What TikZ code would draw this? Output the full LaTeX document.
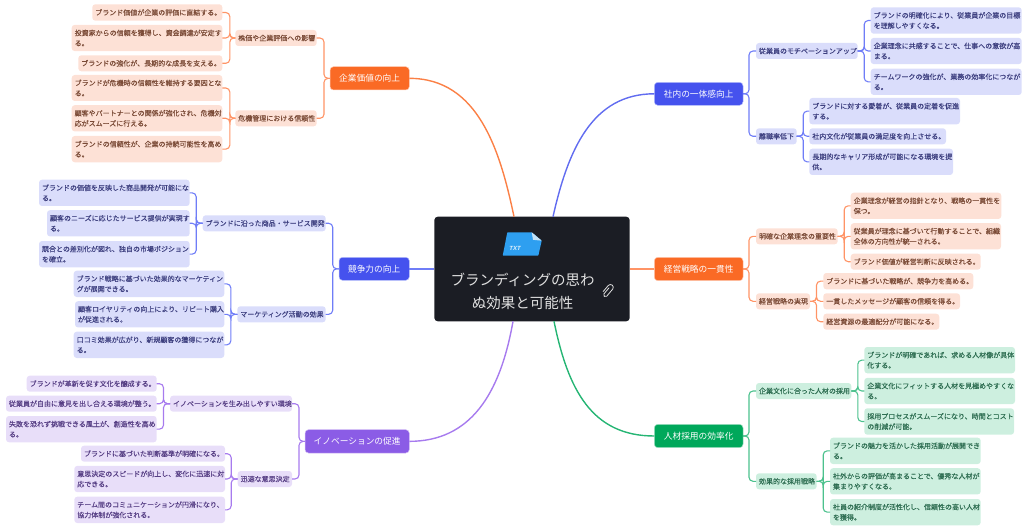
\documentclass[tikz,border=0pt]{standalone}
\usepackage{fontspec}
\setmainfont{Noto Sans CJK JP}
\newfontfamily\subfont{Noto Sans CJK JP}[FakeBold=0.07]
\newfontfamily\txtfont{Liberation Sans}
\definecolor{oLine}{HTML}{FF9466}\definecolor{oFill}{HTML}{FDE1D6}\definecolor{oText}{HTML}{7A4A36}\definecolor{oMain}{HTML}{FA6A25}
\definecolor{bLine}{HTML}{6F7DF7}\definecolor{bFill}{HTML}{DADDFB}\definecolor{bText}{HTML}{3E4080}\definecolor{bMain}{HTML}{4552EE}
\definecolor{pLine}{HTML}{A77BEE}\definecolor{pFill}{HTML}{E8DEF9}\definecolor{pText}{HTML}{573F85}\definecolor{pMain}{HTML}{8B5CE6}
\definecolor{gLine}{HTML}{4CC18D}\definecolor{gFill}{HTML}{CDEFDF}\definecolor{gText}{HTML}{2E6E52}\definecolor{gMain}{HTML}{00A85B}
\definecolor{coreFill}{HTML}{1B1D24}
\definecolor{iconBlue}{HTML}{2E9FF0}\definecolor{iconFold}{HTML}{C4E2F6}
\tikzset{
 base/.style={rectangle,rounded corners=3pt,inner sep=0pt,outer sep=0pt},
 sub/.style={base,font=\fontsize{7}{10.3}\subfont,align=left},
 topic/.style={base,rounded corners=3.5pt,font=\fontsize{8.7}{11}\selectfont,align=center,text=white},
 oS/.style={sub,fill=oFill,text=oText},bS/.style={sub,fill=bFill,text=bText},
 pS/.style={sub,fill=pFill,text=pText},gS/.style={sub,fill=gFill,text=gText},
 oT/.style={topic,fill=oMain,draw=oLine!50,line width=.5pt},bT/.style={topic,fill=bMain,draw=bLine!50,line width=.5pt},
 pT/.style={topic,fill=pMain,draw=pLine!50,line width=.5pt},gT/.style={topic,fill=gMain,draw=gLine!50,line width=.5pt},
 link/.style={line width=1.1pt,rounded corners=4pt},
 trunk/.style={line width=1.4pt},
}
\newcommand\bx[7][]{%
 \pgfmathsetmacro\bxw{#5-#3}\pgfmathsetmacro\bxt{#5-#3-6}\pgfmathsetmacro\bxh{#6-#4}%
 \node[#1,minimum width=\bxw pt,minimum height=\bxh pt,text width=\bxt pt] (#2) at ({(#3+#5)/2},{(#4+#6)/2}) {#7};}
% left-going and right-going brackets
\newcommand\lk[4]{\foreach \t in {#4}{\draw[link,#1] (#2.west) -- ([xshift=-#3pt]#2.west) |- (\t.east);}}
\newcommand\rk[4]{\foreach \t in {#4}{\draw[link,#1] (#2.east) -- ([xshift=#3pt]#2.east) |- (\t.west);}}
\begin{document}
\begin{tikzpicture}[x=1pt,y=-1pt]
\useasboundingbox (0,0) rectangle (1024,529);
% centre
\node[base,rounded corners=3.5pt,fill=coreFill,minimum width=195.4pt,minimum height=104.6pt] (core) at (532,269) {};
\node[font=\fontsize{14.5}{22.7}\selectfont,text=white!88!black,align=center,inner sep=0pt] (coretext) at (522.5,291.5) {ブランディングの思わ\\ぬ効果と可能性};
\fill[iconBlue,rounded corners=.6pt] (507.3,232.3) -- (531.7,232.3) -- (541.7,240.7) -- (538.3,255.7) -- (502.7,255.7) -- cycle;
\fill[iconFold] (531.7,232.3) -- (541.7,240.7) -- (533,239.8) -- cycle;
\node[font=\fontsize{6}{7}\txtfont\bfseries\itshape,text=white!85!iconBlue,inner sep=0pt] (txt) at (515,248.6) {TXT};
\begin{scope}[shift={(607.7,291)},x=1.3pt,y=1.3pt,rotate=-40]
\draw[white!88!black,line width=.8pt,line cap=round] (-.8,2.5) -- (-.8,-3.5) arc[start angle=180,end angle=360,radius=1.82pt] -- (2,3.5) arc[start angle=0,end angle=180,radius=2.86pt] -- (-2.4,-2.5);
\end{scope}
% topics
\bx[oT]{t1}{330}{66.7}{409.3}{90}{企業価値の向上}
\bx[bT]{t2}{339}{257.3}{409.3}{280.3}{競争力の向上}
\bx[pT]{t3}{305}{429.7}{409.3}{453}{イノベーションの促進}
\bx[bT]{t4}{654.3}{82.3}{743}{105.3}{社内の一体感向上}
\bx[oT]{t5}{654.3}{257.3}{743}{280.7}{経営戦略の一貫性}
\bx[gT]{t6}{654.3}{424.3}{743}{447.7}{人材採用の効率化}
% top left
\bx[oS]{a1}{235.3}{30}{316.7}{46}{株価や企業評価への影響}
\bx[oS]{a2}{235.3}{110.3}{316.7}{126.3}{危機管理における信頼性}
\bx[oS]{a11}{92.3}{4.3}{222.3}{20.7}{ブランド価値が企業の評価に直結する。}
\bx[oS]{a12}{71.7}{24.9}{222.3}{51.1}{投資家からの信頼を獲得し、資金調達が安定す\\る。}
\bx[oS]{a13}{78.3}{55.3}{222.3}{71.3}{ブランドの強化が、長期的な成長を支える。}
\bx[oS]{a21}{71.7}{75}{222.3}{101}{ブランドが危機時の信頼性を維持する要因とな\\る。}
\bx[oS]{a22}{71.7}{105.2}{222.3}{131.4}{顧客やパートナーとの関係が強化され、危機対\\応がスムーズに行える。}
\bx[oS]{a23}{71.7}{136}{222.3}{162.3}{ブランドの信頼性が、企業の持続可能性を高め\\る。}
% mid left
\bx[bS]{b1}{202.7}{215.3}{325.7}{231.3}{ブランドに沿った商品・サービス開発}
\bx[bS]{b2}{237.3}{306.3}{325.7}{322.3}{マーケティング活動の効果}
\bx[bS]{b11}{39}{179.7}{189.7}{206}{ブランドの価値を反映した商品開発が可能にな\\る。}
\bx[bS]{b12}{47}{210.2}{189.7}{236.4}{顧客のニーズに応じたサービス提供が実現す\\る。}
\bx[bS]{b13}{39}{241}{189.7}{267.3}{競合との差別化が図れ、独自の市場ポジション\\を確立。}
\bx[bS]{b21}{73.7}{270.7}{224.3}{297}{ブランド戦略に基づいた効果的なマーケティン\\グが展開できる。}
\bx[bS]{b22}{75}{301.2}{224.3}{327.4}{顧客ロイヤリティの向上により、リピート購入\\が促進される。}
\bx[bS]{b23}{73.7}{331.7}{224.3}{358}{口コミ効果が広がり、新規顧客の獲得につなが\\る。}
% bottom left
\bx[pS]{c1}{170}{395.7}{292}{411.7}{イノベーションを生み出しやすい環境}
\bx[pS]{c2}{237.7}{471}{292}{487}{迅速な意思決定}
\bx[pS]{c11}{26.7}{375.7}{156.7}{391.7}{ブランドが革新を促す文化を醸成する。}
\bx[pS]{c12}{6}{395.7}{156.7}{411.7}{従業員が自由に意見を出し合える環境が整う。}
\bx[pS]{c13}{6}{416}{156.7}{442.3}{失敗を恐れず挑戦できる風土が、創造性を高め\\る。}
\bx[pS]{c21}{81}{445.7}{225}{461.7}{ブランドに基づいた判断基準が明確になる。}
\bx[pS]{c22}{74.3}{465.9}{225}{492.1}{意思決定のスピードが向上し、変化に迅速に対\\応できる。}
\bx[pS]{c23}{74.3}{496.7}{225}{523}{チーム間のコミュニケーションが円滑になり、\\協力体制が強化される。}
% top right
\bx[bS]{d1}{756}{43}{857.7}{59}{従業員のモチベーションアップ}
\bx[bS]{d2}{756}{128.3}{796.7}{144.3}{離職率低下}
\bx[bS]{d11}{870.7}{7.3}{1021.7}{33.7}{ブランドの明確化により、従業員が企業の目標\\を理解しやすくなる。}
\bx[bS]{d12}{870.7}{37.9}{1021.7}{64.1}{企業理念に共感することで、仕事への意欲が高\\まる。}
\bx[bS]{d13}{870.7}{68.7}{1021.7}{95}{チームワークの強化が、業務の効率化につなが\\る。}
\bx[bS]{d21}{809.3}{98}{960}{124.3}{ブランドに対する愛着が、従業員の定着を促進\\する。}
\bx[bS]{d22}{809.3}{128.3}{946}{144.3}{社内文化が従業員の満足度を向上させる。}
\bx[bS]{d23}{809.3}{148.7}{953}{175}{長期的なキャリア形成が可能になる環境を提\\供。}
% mid right
\bx[oS]{e1}{756}{228.3}{837.7}{244.3}{明確な企業理念の重要性}
\bx[oS]{e2}{756}{293.3}{810}{309.3}{経営戦略の実現}
\bx[oS]{e11}{850.7}{192.7}{1001.3}{219}{企業理念が経営の指針となり、戦略の一貫性を\\保つ。}
\bx[oS]{e12}{850.7}{223.2}{1001}{249.4}{従業員が理念に基づいて行動することで、組織\\全体の方向性が統一される。}
\bx[oS]{e13}{850.7}{253.7}{980.7}{269.7}{ブランド価値が経営判断に反映される。}
\bx[oS]{e21}{823.3}{273}{973.3}{289.3}{ブランドに基づいた戦略が、競争力を高める。}
\bx[oS]{e22}{823.3}{293.3}{960}{309.3}{一貫したメッセージが顧客の信頼を得る。}
\bx[oS]{e23}{823.3}{313.7}{939.3}{329.7}{経営資源の最適配分が可能になる。}
% bottom right
\bx[gS]{f1}{756}{383}{851.3}{399}{企業文化に合った人材の採用}
\bx[gS]{f2}{756}{473.3}{816.7}{489.3}{効果的な採用戦略}
\bx[gS]{f11}{864.3}{347}{1015}{373.3}{ブランドが明確であれば、求める人材像が具体\\化する。}
\bx[gS]{f12}{864.3}{377.9}{1015}{404.1}{企業文化にフィットする人材を見極めやすくな\\る。}
\bx[gS]{f13}{864.3}{408.3}{1014}{434.7}{採用プロセスがスムーズになり、時間とコスト\\の削減が可能。}
\bx[gS]{f21}{830}{437.7}{980.7}{464}{ブランドの魅力を活かした採用活動が展開でき\\る。}
\bx[gS]{f22}{830}{468.2}{980.7}{494.4}{社外からの評価が高まることで、優秀な人材が\\集まりやすくなる。}
\bx[gS]{f23}{830}{499}{980.7}{525.3}{社員の紹介制度が活性化し、信頼性の高い人材\\を獲得。}
% trunks
\draw[trunk,oMain!85!white] (t1.east) .. controls (478,78.3) and (500,150) .. ([xshift=-18pt]core.north);
\draw[trunk,bMain!85!white] (t4.west) .. controls (592,93.8) and (568,150) .. ([xshift=21pt]core.north);
\draw[trunk,pLine] (t3.east) .. controls (470,441.3) and (500,395) .. ([xshift=-19pt]core.south);
\draw[trunk,gMain!85!white] (t6.west) .. controls (592,436) and (568,390) .. ([xshift=22pt]core.south);
\draw[trunk,bLine] (t2.east) -- (core.west |- t2.east);
\draw[trunk,oLine] (t5.west) -- (core.east |- t5.west);
% brackets
\lk{oLine}{t1}{6}{a1,a2}
\lk{oLine}{a1}{5.5}{a11,a12,a13}
\lk{oLine}{a2}{5.5}{a21,a22,a23}
\lk{bLine}{t2}{6.3}{b1,b2}
\lk{bLine}{b1}{6.5}{b11,b12,b13}
\lk{bLine}{b2}{6.5}{b21,b22,b23}
\lk{pLine}{t3}{6}{c1,c2}
\lk{pLine}{c1}{6.5}{c11,c12,c13}
\lk{pLine}{c2}{6.5}{c21,c22,c23}
\rk{bLine}{t4}{6}{d1,d2}
\rk{bLine}{d1}{6.5}{d11,d12,d13}
\rk{bLine}{d2}{6.5}{d21,d22,d23}
\rk{oLine}{t5}{6}{e1,e2}
\rk{oLine}{e1}{6.5}{e11,e12,e13}
\rk{oLine}{e2}{6.5}{e21,e22,e23}
\rk{gLine}{t6}{6}{f1,f2}
\rk{gLine}{f1}{6.5}{f11,f12,f13}
\rk{gLine}{f2}{6.5}{f21,f22,f23}
\end{tikzpicture}
\end{document}
